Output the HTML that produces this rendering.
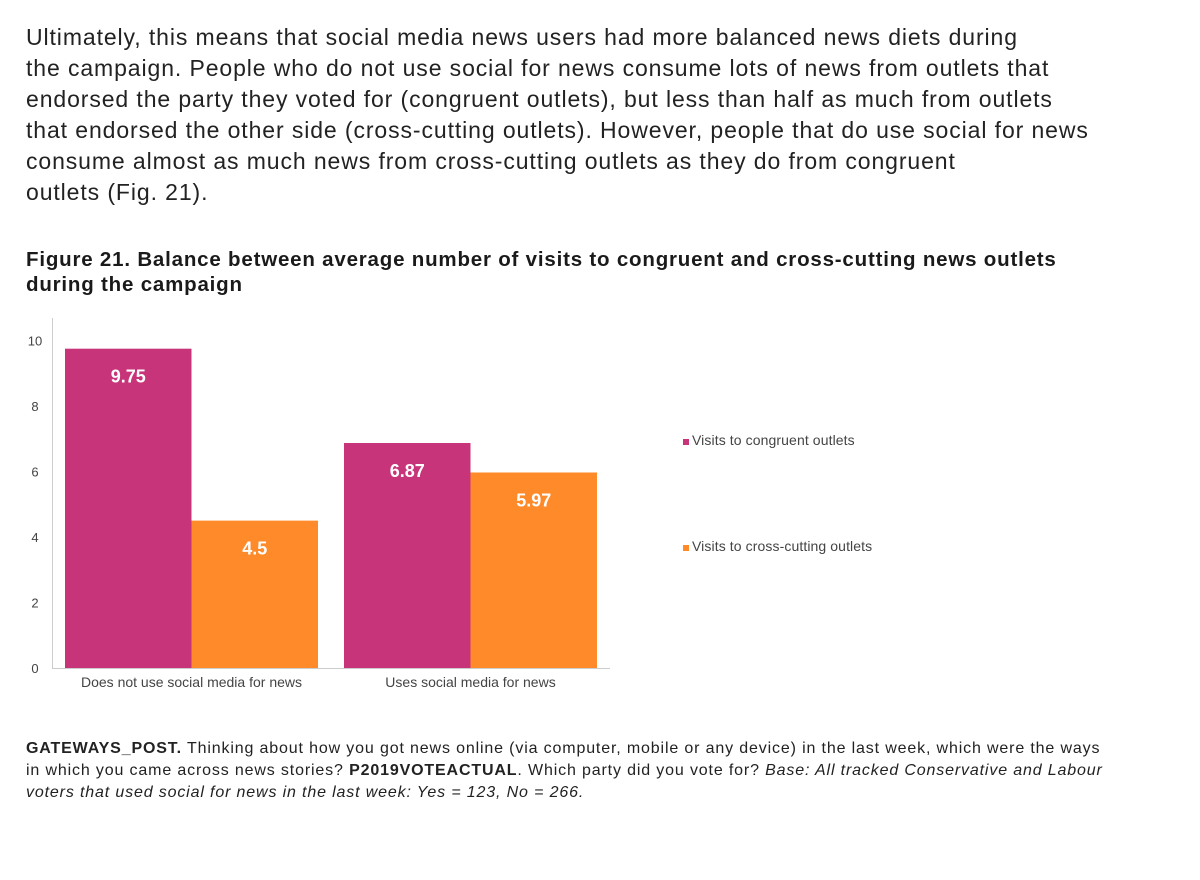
<!DOCTYPE html>
<html><head><meta charset="utf-8"><style>
body{margin:0;width:1200px;height:880px;background:#fff;font-family:"Liberation Sans",sans-serif;color:#1a1a1a;position:relative;overflow:hidden}
.p{position:absolute;left:26px;top:22px;font-size:23px;line-height:31px;width:1170px;color:#222;letter-spacing:0.9px;white-space:nowrap}
.t{position:absolute;left:26px;top:247px;font-size:20.5px;font-weight:bold;line-height:25px;width:1170px;letter-spacing:0.8px;white-space:nowrap}
.n{position:absolute;left:26px;top:738px;font-size:16px;line-height:22px;width:1170px;color:#222;letter-spacing:0.85px;white-space:nowrap}
svg{position:absolute;left:0;top:0}
</style></head><body>
<div class="p">Ultimately, this means that social media news users had more balanced news diets during<br>the campaign. People who do not use social for news consume lots of news from outlets that<br>endorsed the party they voted for (congruent outlets), but less than half as much from outlets<br>that endorsed the other side (cross-cutting outlets). However, people that do use social for news<br>consume almost as much news from cross-cutting outlets as they do from congruent<br>outlets (Fig. 21).</div>
<div class="t">Figure 21. Balance between average number of visits to congruent and cross-cutting news outlets<br>during the campaign</div>
<svg id="c" width="1200" height="880"></svg>
<div class="n"><b>GATEWAYS_POST.</b> Thinking about how you got news online (via computer, mobile or any device) in the last week, which were the ways<br>in which you came across news stories? <b>P2019VOTEACTUAL</b>. Which party did you vote for? <i>Base: All tracked Conservative and Labour<br>voters that used social for news in the last week: Yes = 123, No = 266.</i></div>
<script>
const categories=["Does not use social media for news","Uses social media for news"];
const congruent=[9.75,6.87];
const crossCutting=[4.5,5.97];
const congruentLabels=["9.75","6.87"];
const crossLabels=["4.5","5.97"];
const yTicks=[0,2,4,6,8,10];
const seriesNames=["Visits to congruent outlets","Visits to cross-cutting outlets"];
const colors=["#C8347A","#FF8A2A"];
const svg=document.getElementById('c');const NS="http://www.w3.org/2000/svg";
function y(v){return 668-v*32.75;}
function mk(t,a,txt){const e=document.createElementNS(NS,t);for(const k in a)e.setAttribute(k,a[k]);if(txt!==undefined)e.textContent=txt;svg.appendChild(e);return e;}
let e=mk('line',{x1:52.5,y1:318,x2:52.5,y2:668.5,stroke:'#ccc'});

e=mk('line',{x1:52,y1:668.5,x2:610,y2:668.5,stroke:'#ccc'});

yTicks.forEach(v=>{const t=mk('text',{x:35,y:y(v)+5,'text-anchor':'middle','font-size':13,fill:'#444'},String(v));
});
const groupX=[65,344],bw=126.5;
categories.forEach((c,i)=>{
 const vals=[congruent[i],crossCutting[i]],labs=[congruentLabels[i],crossLabels[i]];
 vals.forEach((v,s)=>{
  const x=groupX[i]+s*bw;
  const r=mk('rect',{x:x,y:y(v),width:bw,height:668-y(v),fill:colors[s]});
  
  const t=mk('text',{x:x+bw/2,y:y(v)+34,'text-anchor':'middle','font-size':18,'font-weight':'bold',fill:'#fff'},labs[s]);
  
 });
 const t=mk('text',{x:groupX[i]+bw,y:687,'text-anchor':'middle','font-size':14,fill:'#444'},c);
 
});
seriesNames.forEach((n,s)=>{
 const ly=444+s*106;
 const r=mk('rect',{x:683,y:ly-5,width:6,height:6,fill:colors[s]});
 
 const t=mk('text',{x:692,y:ly+1,'font-size':14,fill:'#444','letter-spacing':'0.1'},n);
 
});
</script>
</body></html>
